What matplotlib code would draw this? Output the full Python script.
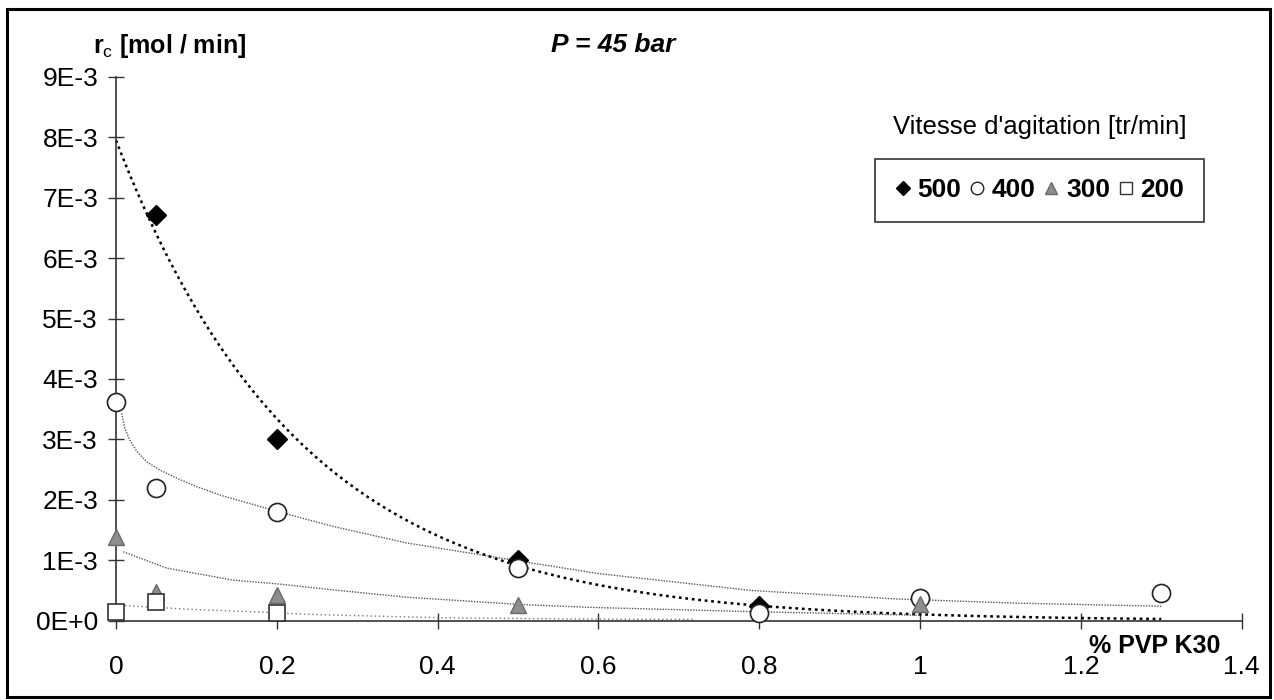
import matplotlib
matplotlib.use("Agg")
import matplotlib.pyplot as plt
import numpy as np
from matplotlib.patches import Rectangle
from matplotlib.lines import Line2D

plt.rcParams['font.family'] = ['Liberation Sans', 'DejaVu Sans']
plt.rcParams['mathtext.fontset'] = 'custom'
plt.rcParams['mathtext.rm'] = 'Liberation Sans'
plt.rcParams['mathtext.bf'] = 'Liberation Sans:bold'

# measured points, rate in mol/min vs % PVP K30
x500 = [0.05, 0.2, 0.5, 0.8]
y500 = [6.72e-3, 3.0e-3, 1.0e-3, 0.24e-3]

x400 = [0.0, 0.05, 0.2, 0.5, 0.8, 1.0, 1.3]
y400 = [3.62e-3, 2.2e-3, 1.8e-3, 0.88e-3, 0.13e-3, 0.37e-3, 0.46e-3]

x300 = [0.0, 0.05, 0.2, 0.5, 1.0]
y300 = [1.38e-3, 0.47e-3, 0.42e-3, 0.26e-3, 0.27e-3]

x200 = [0.0, 0.05, 0.2]
y200 = [0.15e-3, 0.31e-3, 0.12e-3]

# trend curves (400, 300, 200)
t400_x = [0.007, 0.011, 0.017, 0.026, 0.038, 0.055, 0.075, 0.1, 0.129, 0.158, 0.187, 0.208,
          0.27, 0.36, 0.5, 0.6, 0.79, 0.97, 1.12, 1.3]
t400_y = [3.43e-3, 3.18e-3, 2.99e-3, 2.8e-3, 2.63e-3, 2.49e-3, 2.36e-3, 2.22e-3, 2.08e-3,
          1.97e-3, 1.86e-3, 1.78e-3, 1.56e-3, 1.29e-3, 0.99e-3, 0.78e-3, 0.5e-3, 0.36e-3,
          0.29e-3, 0.24e-3]
t300_x = [0.009, 0.063, 0.146, 0.2, 0.27, 0.36, 0.5, 0.59, 0.79, 1.0]
t300_y = [1.14e-3, 0.87e-3, 0.67e-3, 0.61e-3, 0.51e-3, 0.39e-3, 0.27e-3, 0.22e-3, 0.15e-3, 0.09e-3]
t200_x = [0.011, 0.104, 0.167, 0.25, 0.4, 0.55, 0.72]
t200_y = [0.25e-3, 0.18e-3, 0.15e-3, 0.1e-3, 0.05e-3, 0.03e-3, 0.02e-3]

xticks = [0, 0.2, 0.4, 0.6, 0.8, 1.0, 1.2, 1.4]
xtick_labels = ['0', '0.2', '0.4', '0.6', '0.8', '1', '1.2', '1.4']
yticks = [i * 1e-3 for i in range(10)]
ytick_labels = ['0E+0', '1E-3', '2E-3', '3E-3', '4E-3', '5E-3', '6E-3', '7E-3', '8E-3', '9E-3']

fig = plt.figure(figsize=(12.74, 7.0), dpi=100)
ax = fig.add_axes([0.0911, 0.1133, 0.8835, 0.777])

# exponential trendline for 500 (fit on log values, like a spreadsheet does)
b, lna = np.polyfit(x500, np.log(y500), 1)
xx = np.linspace(0, 1.3, 200)
ax.plot(xx, np.exp(lna) * np.exp(b * xx), color='black', lw=1.8,
        linestyle=(0, (1.1, 1.5)), zorder=2, clip_on=False)
ax.plot(t400_x, t400_y, color='#555555', lw=1.0, linestyle=(0, (1, 1)), zorder=2)
ax.plot(t300_x, t300_y, color='#555555', lw=1.0, linestyle=(0, (1, 1)), zorder=2)
ax.plot(t200_x, t200_y, color='#777777', lw=1.0, linestyle=(0, (1, 2)), zorder=2)

ax.plot(x500, y500, 'D', ms=10, mfc='black', mec='black', ls='none', zorder=3, clip_on=False)
ax.plot(x400, y400, 'o', ms=13, mfc='white', mec='#222222', mew=1.2, ls='none', zorder=4, clip_on=False)
ax.plot(x300, y300, '^', ms=11, mfc='#8e8e8e', mec='#6a6a6a', ls='none', zorder=5, clip_on=False)
ax.plot(x200, y200, 's', ms=12, mfc='white', mec='#333333', mew=1.2, ls='none', zorder=6, clip_on=False)

ax.set_xlim(0, 1.4)
ax.set_ylim(0, 9e-3)
ax.set_xticks(xticks)
ax.set_xticklabels(xtick_labels)
ax.set_yticks(yticks)
ax.set_yticklabels(ytick_labels)
for s in ['top', 'right']:
    ax.spines[s].set_visible(False)
for s in ['left', 'bottom']:
    ax.spines[s].set_color('#333333')
    ax.spines[s].set_linewidth(1.2)
ax.tick_params(axis='both', direction='inout', length=12, width=1.0, color='#333333', labelsize=19)
ax.tick_params(axis='x', pad=19)
ax.tick_params(axis='y', pad=7)

fig.text(0.073, 0.924, r'r$_{\mathrm{c}}$ [mol / min]', fontsize=18, fontweight='bold',
         ha='left', va='baseline')
fig.text(0.481, 0.936, 'P = 45 bar', fontsize=19, fontweight='bold', fontstyle='italic',
         ha='center', va='center')
fig.text(0.9066, 0.077, '% PVP K30', fontsize=18, fontweight='bold', ha='center', va='center')
fig.text(0.816, 0.818, "Vitesse d'agitation [tr/min]", fontsize=18.5, ha='center', va='center')

handles = [
    Line2D([], [], marker='D', ms=7, mfc='black', mec='black', ls='none'),
    Line2D([], [], marker='o', ms=9, mfc='white', mec='#222222', ls='none'),
    Line2D([], [], marker='^', ms=8, mfc='#8e8e8e', mec='#6a6a6a', ls='none'),
    Line2D([], [], marker='s', ms=9, mfc='white', mec='#333333', ls='none'),
]
leg = fig.legend(handles, ['500', '400', '300', '200'], ncol=4, loc='center',
                 bbox_to_anchor=(0.816, 0.728), frameon=True, fancybox=False,
                 prop={'size': 19, 'weight': 'bold'}, handlelength=0.6,
                 handletextpad=0.25, columnspacing=0.3, borderpad=0.75, borderaxespad=0)
leg.get_frame().set_edgecolor('black')
leg.get_frame().set_linewidth(1.2)

fig.patches.append(Rectangle((0.0055, 0.004), 0.9914, 0.983, transform=fig.transFigure,
                             fill=False, edgecolor='black', linewidth=2.2))

fig.savefig('out.png', dpi=100)
